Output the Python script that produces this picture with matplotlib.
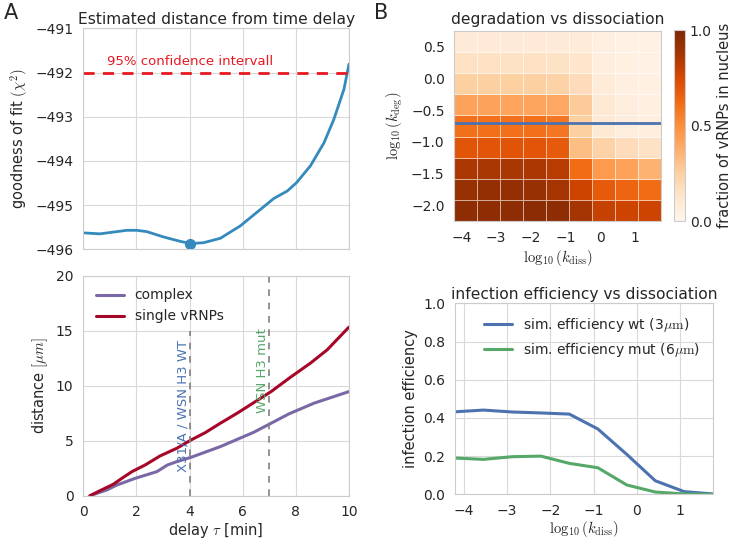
import numpy as np
import matplotlib
matplotlib.use("Agg")
import matplotlib.pyplot as plt
import seaborn as sns

sns.set_style("whitegrid")
plt.rcParams['font.family'] = ['DejaVu Sans']
plt.rcParams['mathtext.fontset'] = 'cm'
plt.rcParams['axes.edgecolor'] = '.8'
plt.rcParams['grid.color'] = '.85'
plt.rcParams['text.color'] = '.15'
plt.rcParams['xtick.color'] = '.15'
plt.rcParams['ytick.color'] = '.15'
plt.rcParams['axes.labelcolor'] = '.15'

# --- panel A, top: goodness of fit vs delay
delayFit = [0.06, 0.63, 1.13, 1.64, 2.02, 2.39, 3.02, 3.65, 4.06, 4.53, 5.16,
            5.91, 6.54, 7.17, 7.68, 8.03, 8.55, 9.06, 9.43, 9.81, 10.0]
chi2 = [-495.63, -495.65, -495.61, -495.57, -495.57, -495.60, -495.72, -495.82,
        -495.87, -495.85, -495.75, -495.47, -495.16, -494.85, -494.68, -494.49,
        -494.11, -493.59, -493.06, -492.38, -491.81]
bestDelay = 4.0
bestChi2 = -495.87
confLevel = -492.0

# --- panel A, bottom: distance vs delay
delayComplex = [0.25, 0.88, 1.26, 1.95, 2.77, 3.17, 3.52, 4.06, 5.16, 6.42,
                7.07, 7.74, 8.68, 10.0]
distComplex = [0.0, 0.52, 0.97, 1.58, 2.19, 2.8, 3.1, 3.5, 4.47, 5.78,
               6.6, 7.45, 8.42, 9.48]
delaySingle = [0.25, 0.63, 1.13, 1.45, 1.83, 2.33, 2.89, 3.52, 4.06, 4.59,
               5.16, 5.79, 6.48, 7.07, 7.8, 8.55, 9.18, 10.0]
distSingle = [0.0, 0.46, 1.04, 1.58, 2.19, 2.8, 3.62, 4.32, 5.08, 5.74,
              6.6, 7.51, 8.57, 9.48, 10.79, 12.07, 13.28, 15.35]
strainDelays = [4, 7]
strainTops = [15, 20]
strainNames = ["X31/A / WSN H3 WT", "WSN H3 mut"]
strainTextY = [2.2, 7.5]

# --- panel B: heatmap + efficiency
logKdiss = [-4.21, -3.55, -2.88, -2.22, -1.56, -0.90, -0.23, 0.43, 1.10, 1.76]
logKdeg = [-2.25, -1.917, -1.583, -1.25, -0.917, -0.583, -0.25, 0.083, 0.417, 0.75]
fraction = [  # rows from log10(kdeg) = -2.08 (bottom) to 0.58 (top)
    [0.95, 0.95, 0.95, 0.96, 0.95, 0.88, 0.80, 0.78, 0.78],
    [0.92, 0.93, 0.93, 0.92, 0.88, 0.78, 0.68, 0.64, 0.62],
    [0.86, 0.87, 0.87, 0.86, 0.83, 0.62, 0.45, 0.42, 0.36],
    [0.70, 0.70, 0.71, 0.70, 0.68, 0.32, 0.24, 0.18, 0.15],
    [0.60, 0.60, 0.60, 0.60, 0.58, 0.25, 0.10, 0.07, 0.06],
    [0.42, 0.42, 0.41, 0.41, 0.40, 0.27, 0.10, 0.07, 0.05],
    [0.25, 0.25, 0.25, 0.25, 0.24, 0.18, 0.08, 0.05, 0.04],
    [0.16, 0.16, 0.16, 0.16, 0.15, 0.13, 0.06, 0.04, 0.03],
    [0.09, 0.09, 0.09, 0.09, 0.09, 0.08, 0.05, 0.03, 0.03],
]
kdegLine = -0.7

effWt = [0.432, 0.441, 0.431, 0.426, 0.420, 0.342, 0.209, 0.071, 0.014, 0.002]
effMut = [0.19, 0.183, 0.197, 0.20, 0.162, 0.139, 0.049, 0.012, 0.002, 0.0]

TICK = 10
LAB = 10.5
TITLE = 11.2

fig = plt.figure(figsize=(7.33, 5.4), dpi=100)

# top left
ax1 = fig.add_axes([0.1136, 0.5383, 0.3625, 0.4093])
ax1.plot(delayFit, chi2, color='#348ABD', lw=2)
ax1.plot([bestDelay], [bestChi2], 'o', color='#348ABD', ms=7)
ax1.axhline(confLevel, color='#E8171F', ls='--', lw=2, dashes=(4, 3))
ax1.text(0.88, -491.84, "95% confidence intervall", color='#E8171F', fontsize=9.5,
         va='baseline')
ax1.set_xlim(0, 10)
ax1.set_ylim(-496, -491)
ax1.set_xticks([0, 2, 4, 6, 8, 10])
ax1.set_xticklabels([])
ax1.set_yticks([-496, -495, -494, -493, -492, -491])
ax1.tick_params(labelsize=TICK)
ax1.set_ylabel(r"goodness of fit $(\chi^2)$", fontsize=LAB)
ax1.set_title("Estimated distance from time delay", fontsize=TITLE, pad=3)

# bottom left
ax2 = fig.add_axes([0.1136, 0.0820, 0.3625, 0.4069])
ax2.plot(delayComplex, distComplex, color='#7A68A6', lw=2.2, label="complex")
ax2.plot(delaySingle, distSingle, color='#A60628', lw=2.2, label="single vRNPs")
for d, top in zip(strainDelays, strainTops):
    ax2.plot([d, d], [0, top], color='.5', ls='--', lw=1.2, dashes=(4, 4))
ax2.text(strainDelays[0], strainTextY[0], strainNames[0], rotation=90,
         ha='right', va='bottom', color='#4C72B0', fontsize=9.5)
ax2.text(strainDelays[1], strainTextY[1], strainNames[1], rotation=90,
         ha='right', va='bottom', color='#55A868', fontsize=9.5)
ax2.set_xlim(0, 10)
ax2.set_ylim(0, 20)
ax2.set_xticks([0, 2, 4, 6, 8, 10])
ax2.set_yticks([0, 5, 10, 15, 20])
ax2.tick_params(labelsize=TICK)
ax2.set_xlabel(r"delay $\tau$ [min]", fontsize=LAB, labelpad=1)
ax2.set_ylabel(r"distance $[\mu m]$", fontsize=LAB)
ax2.legend(loc='upper left', frameon=False, fontsize=TICK)

# top right heatmap
ax3 = fig.add_axes([0.6198, 0.5907, 0.2820, 0.3519])
mesh = ax3.pcolormesh(logKdiss, logKdeg, np.array(fraction), cmap='Oranges',
                      vmin=0, vmax=1, edgecolors=(1, 1, 1, 0.6), linewidth=0.6)
ax3.axhline(kdegLine, color='#4C72B0', lw=2)
ax3.grid(False)
ax3.set_xlim(logKdiss[0], logKdiss[-1])
ax3.set_ylim(logKdeg[0], logKdeg[-1])
ax3.set_xticks([-4, -3, -2, -1, 0, 1])
ax3.set_yticks([-2.0, -1.5, -1.0, -0.5, 0.0, 0.5])
ax3.set_yticklabels(["\u22122.0", "\u22121.5", "\u22121.0", "\u22120.5", "0.0", "0.5"])
ax3.tick_params(labelsize=TICK)
ax3.set_xlabel(r"$\log_{10}(k_{\rm diss})$", fontsize=LAB, labelpad=2)
ax3.set_ylabel(r"$\log_{10}(k_{\rm deg})$", fontsize=LAB)
ax3.set_title("degradation vs dissociation", fontsize=TITLE, pad=5)

cax = fig.add_axes([0.9195, 0.5907, 0.0150, 0.3537])
cb = fig.colorbar(mesh, cax=cax, ticks=[0.0, 0.5, 1.0])
cb.outline.set_edgecolor('.8')
cax.tick_params(labelsize=TICK, length=0)
cb.set_label("fraction of vRNPs in nucleus", fontsize=LAB)

# bottom right
ax4 = fig.add_axes([0.6207, 0.0846, 0.3516, 0.3537])
ax4.plot(logKdiss, effWt, color='#4C72B0', lw=2.2, label=r"sim. efficiency wt (3$\mu\rm{m}$)")
ax4.plot(logKdiss, effMut, color='#55A868', lw=2.2, label=r"sim. efficiency mut (6$\mu\rm{m}$)")
ax4.set_xlim(logKdiss[0], logKdiss[-1])
ax4.set_ylim(0, 1)
ax4.set_xticks([-4, -3, -2, -1, 0, 1])
ax4.set_yticks([0.0, 0.2, 0.4, 0.6, 0.8, 1.0])
ax4.tick_params(labelsize=TICK)
ax4.set_xlabel(r"$\log_{10}(k_{\rm diss})$", fontsize=LAB, labelpad=1)
ax4.set_ylabel("infection efficiency", fontsize=LAB)
ax4.set_title("infection efficiency vs dissociation", fontsize=TITLE, pad=3)
ax4.legend(loc='upper right', frameon=False, fontsize=TICK)

fig.text(0.005, 0.965, "A", fontsize=15)
fig.text(0.51, 0.965, "B", fontsize=15)

fig.savefig("out.png", dpi=100)
